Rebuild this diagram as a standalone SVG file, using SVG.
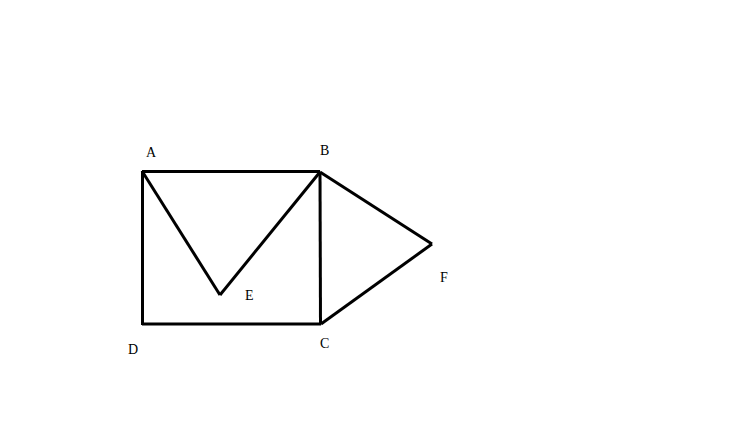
<svg xmlns="http://www.w3.org/2000/svg" width="739" height="443" viewBox="0 0 739 443">
<style>
.e{stroke:#000;stroke-width:3;fill:none;stroke-linecap:butt;stroke-linejoin:miter}
.l{font-family:"Liberation Serif",serif;font-size:14px;fill:#000}
</style>
<rect width="739" height="443" fill="#fff"/>
<g id="connectors">
<line class="e" x1="142" y1="171.5" x2="320" y2="171.5"/>
<line class="e" x1="142.5" y1="171" x2="142.5" y2="325"/>
<line class="e" x1="142" y1="324" x2="321" y2="324"/>
<line class="e" x1="320" y1="172" x2="320.5" y2="324"/>
<line class="e" x1="142" y1="171" x2="220" y2="295"/>
<line class="e" x1="220" y1="295" x2="320" y2="172"/>
<line class="e" x1="320" y1="172" x2="432" y2="244"/>
<line class="e" x1="432" y1="244" x2="321" y2="324"/>
</g>
<g id="A"><text class="l" x="146" y="157">A</text></g>
<g id="B"><text class="l" x="320" y="155">B</text></g>
<g id="C"><text class="l" x="320" y="348">C</text></g>
<g id="D"><text class="l" x="128" y="354">D</text></g>
<g id="E"><text class="l" x="245" y="300">E</text></g>
<g id="F"><text class="l" x="440" y="282">F</text></g>
</svg>
